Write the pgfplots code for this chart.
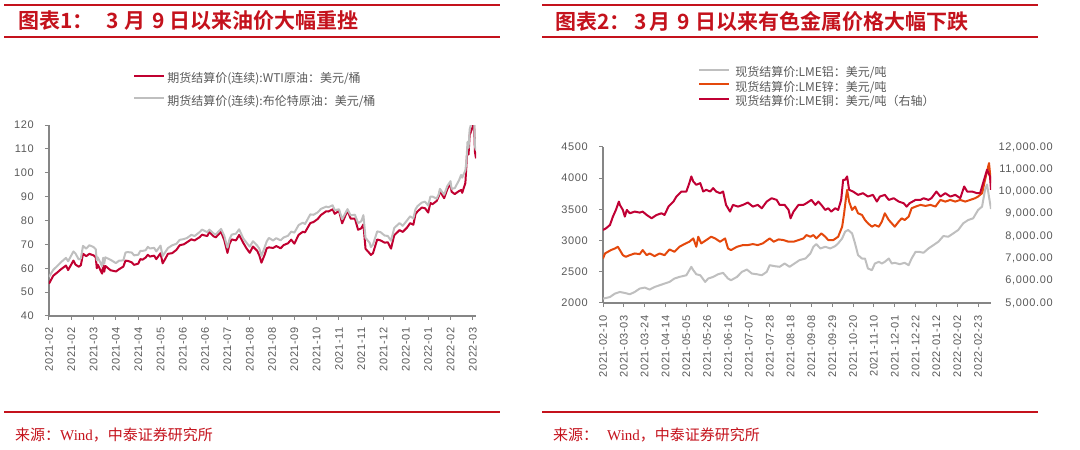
\documentclass[border=0pt]{standalone}
\usepackage{fontspec}
\usepackage{pgfplots}
\usepackage{pgfplotstable}
\pgfplotsset{compat=1.18}
\setmainfont{Liberation Sans}
\newfontfamily\cjk[BoldFont=* Bold]{Noto Sans CJK SC}
\newfontfamily\tickfont[LetterSpace=6]{Liberation Sans}
\newfontfamily\serifw{Liberation Serif}
\definecolor{titlered}{RGB}{196,18,28}
\definecolor{wti}{RGB}{192,0,48}
\definecolor{lgray}{RGB}{191,191,191}
\definecolor{zinc}{RGB}{228,72,12}
\definecolor{copper}{RGB}{192,0,52}
\definecolor{axgray}{RGB}{134,134,134}
\definecolor{txtgray}{RGB}{89,89,89}

\pgfplotstableread{
day wti brent
0 53.55 56.35
4 56.85 59.34
9 58.68 61.47
11 59.47 62.43
16 61.14 64.34
18 59.24 62.91
23 63.22 67.04
25 61.50 66.13
28 60.64 63.69
30 61.28 64.07
32 66.09 69.36
35 65.05 68.24
38 66.02 69.63
42 65.39 68.88
44 64.60 68.00
45 60.00 63.28
46 61.42 64.53
50 57.76 60.79
51 61.18 64.41
52 58.56 61.95
53 60.97 64.57
58 59.16 63.54
63 58.65 62.15
66 59.60 63.20
70 60.70 63.28
72 63.15 66.58
74 63.13 66.77
78 62.44 66.57
80 61.43 65.40
84 61.91 65.65
86 63.86 67.27
88 63.58 67.25
91 64.49 67.56
93 65.63 68.96
95 64.90 68.28
99 65.28 68.55
101 63.82 67.05
105 66.27 69.46
107 62.05 65.11
109 63.58 66.44
112 66.05 68.46
116 66.32 69.63
120 67.72 70.25
123 69.62 71.89
127 70.05 72.22
130 70.91 72.69
134 72.12 73.99
137 71.64 73.51
142 73.08 75.19
144 74.05 76.18
149 73.47 75.13
151 75.16 76.17
155 73.37 74.53
157 72.94 74.12
162 75.25 76.49
165 71.81 73.59
168 66.42 68.62
170 70.30 72.23
172 72.07 74.10
176 71.65 74.48
179 73.95 76.33
183 70.56 72.41
186 68.28 70.70
189 66.48 69.04
192 69.09 71.31
196 67.29 69.51
198 65.46 68.23
200 62.32 65.18
203 65.64 68.75
205 68.36 71.25
207 68.74 72.70
211 68.50 71.63
214 69.29 72.61
218 68.35 71.69
221 69.72 72.92
225 70.46 73.60
228 71.97 75.34
231 70.29 74.92
235 73.98 78.09
239 75.29 79.09
241 75.03 78.52
246 78.93 82.56
249 79.35 82.39
253 80.64 83.42
256 82.28 84.86
261 83.87 85.82
263 83.76 85.53
267 84.65 86.40
269 82.81 84.32
273 84.05 84.71
276 78.81 80.54
281 84.15 84.78
284 80.79 82.17
288 80.76 82.43
291 76.10 78.89
294 76.75 79.70
296 78.39 82.25
298 68.15 72.72
302 66.18 70.57
303 65.57 68.87
305 66.26 69.88
309 72.05 75.44
312 71.67 75.15
316 70.73 73.70
319 70.86 73.52
322 68.23 71.52
325 73.79 76.85
330 75.98 78.94
333 75.21 77.78
337 76.99 80.00
340 78.90 81.75
343 78.23 80.87
345 82.64 84.67
347 83.82 86.06
351 85.43 87.51
354 85.14 87.89
357 83.31 86.27
359 87.35 89.96
361 86.82 90.03
365 88.20 89.16
367 90.27 91.11
368 92.31 93.27
372 89.36 90.78
375 93.10 94.44
378 95.46 96.48
379 92.07 93.28
382 91.07 93.54
386 92.35 96.84
388 92.81 99.08
389 91.59 97.93
392 95.72 100.99
393 103.41 104.97
394 110.60 112.93
395 107.67 110.46
396 115.68 118.11
399 119.40 123.21
400 123.70 127.98
401 108.70 111.14
402 106.02 109.33
}\oiltable

\pgfplotstableread{
day al
0 2070
3 2080
7 2096
12 2150
17 2177
22 2161
27 2140
32 2177
37 2231
42 2247
47 2215
52 2257
57 2284
62 2311
67 2338
72 2392
77 2418
84 2445
89 2580
91 2526
94 2461
98 2445
103 2338
106 2392
111 2418
116 2461
121 2483
126 2392
129 2365
135 2418
140 2499
145 2536
150 2472
155 2461
160 2445
165 2499
168 2606
173 2590
178 2580
183 2633
188 2580
193 2633
198 2687
204 2713
209 2794
212 2901
215 2944
219 2874
224 2901
229 2874
234 2912
237 2955
241 3035
244 3143
247 3170
251 3116
254 2955
257 2767
261 2713
264 2713
267 2553
271 2526
274 2633
278 2660
281 2633
284 2660
288 2713
291 2633
294 2644
299 2622
304 2644
308 2606
311 2713
315 2821
318 2821
323 2805
328 2874
333 2928
338 2982
343 3073
348 3062
353 3116
358 3170
363 3277
368 3330
373 3357
378 3491
382 3545
385 3813
387 3900
389 3700
391 3507
}\altable

\pgfplotstableread{
day zn
0 2713
2 2794
5 2821
8 2848
12 2874
15 2901
17 2848
20 2767
23 2740
27 2767
32 2794
37 2783
40 2848
44 2767
47 2794
52 2751
57 2794
62 2767
67 2858
72 2821
77 2901
82 2944
87 2982
91 3035
94 2901
96 3062
99 2955
104 3008
109 3062
113 3035
118 2982
123 3035
126 2874
129 2848
135 2901
141 2928
146 2928
151 2944
156 2928
161 2955
168 3035
172 2982
177 3019
182 3008
187 2982
192 2982
197 3008
202 3035
205 3089
209 3062
212 3089
215 3035
220 3116
224 3062
227 3008
232 3008
237 3062
241 3223
243 3438
245 3706
246 3813
248 3625
251 3491
254 3545
257 3438
261 3411
264 3330
267 3277
271 3223
274 3250
278 3223
281 3304
284 3438
288 3330
291 3277
294 3223
298 3304
301 3357
304 3330
308 3384
311 3518
315 3545
320 3572
325 3556
330 3572
335 3545
340 3652
345 3625
350 3652
355 3625
360 3652
365 3625
370 3652
375 3679
378 3706
382 3760
385 3974
389 4242
391 3920
}\zntable

\pgfplotstableread{
day cu
0 8275
3 8350
7 8500
10 8876
13 9176
16 9552
17 9402
20 9176
22 8876
24 9176
27 9026
32 9101
37 9056
40 9101
44 8951
49 8801
54 8951
59 9026
62 8951
66 9326
71 9552
74 9777
79 10002
84 10002
87 10378
89 10678
91 10453
94 10303
98 10378
101 10002
104 10078
108 10002
111 10153
114 10002
118 9927
121 10002
124 9402
128 9101
131 9402
136 9326
141 9402
146 9507
151 9326
156 9402
160 9251
165 9552
170 9702
175 9627
178 9402
183 9402
187 9176
189 8801
192 9101
197 9402
202 9402
205 9477
210 9627
214 9402
217 9552
220 9402
224 9176
227 9251
230 9101
234 9251
237 9176
240 9627
242 10528
244 10528
246 10678
248 10078
252 10002
257 9852
262 9927
267 9777
272 9852
276 9552
279 9777
284 9852
288 9627
293 9702
298 9552
303 9477
306 9326
309 9477
315 9627
320 9627
323 9702
328 9627
331 9702
336 10002
340 9777
345 9927
350 9777
355 9852
360 9702
364 10228
367 10002
372 10002
377 9927
380 9927
383 10378
387 10979
390 10678
391 10078
}\cutable

\begin{document}
\begin{tikzpicture}
\useasboundingbox (0pt,0pt) rectangle (1080pt,450pt);
% ---------- decorations left ----------
\draw[titlered, line width=2.5pt] (4pt,445pt) -- (500pt,445pt);
\draw[titlered, line width=2pt] (4pt,413pt) -- (500pt,413pt);
\draw[titlered, line width=1.6pt] (4pt,38pt) -- (500pt,38pt);
\node[anchor=west, inner sep=0pt, text=titlered, font=\cjk\bfseries\fontsize{21}{24}\selectfont] at (18pt,429pt)
  {图表1：\hspace{13pt}3\hspace{6pt}月\hspace{7pt}9\hspace{4pt}日以来油价大幅重挫};
\node[anchor=west, inner sep=0pt, text=titlered, font=\cjk\fontsize{15}{18}\selectfont] at (15pt,15pt)
  {来源：{\serifw Wind}，中泰证券研究所};
% ---------- decorations right ----------
\draw[titlered, line width=2.5pt] (542pt,445pt) -- (1038pt,445pt);
\draw[titlered, line width=2pt] (542pt,413pt) -- (1038pt,413pt);
\draw[titlered, line width=1.6pt] (542pt,38pt) -- (1038pt,38pt);
\node[anchor=west, inner sep=0pt, text=titlered, font=\cjk\bfseries\fontsize{21}{24}\selectfont] at (555pt,429pt)
  {图表2：\hspace{4pt}3\hspace{3pt}月\hspace{7pt}9\hspace{5pt}日以来有色金属价格大幅下跌};
\node[anchor=west, inner sep=0pt, text=titlered, font=\cjk\fontsize{15}{18}\selectfont] at (553pt,15pt)
  {来源：\hspace{9pt}{\serifw Wind}，中泰证券研究所};

% ---------- left chart ----------
\begin{axis}[
  at={(49pt,134pt)}, anchor=south west, scale only axis,
  width=427pt, height=191pt,
  xmin=0, xmax=402, ymin=40, ymax=120,
  scaled ticks=false,
  axis x line*=bottom, axis y line*=left,
  axis line style={axgray, line width=1.2pt},
  tick style={axgray, line width=1pt}, tick align=outside, major tick length=4pt,
  xtick={0,21,...,399},
  xticklabels={2021-02,2021-02,2021-03,2021-04,2021-04,2021-05,2021-06,2021-06,2021-07,2021-08,2021-08,2021-09,2021-10,2021-11,2021-11,2021-12,2022-01,2022-01,2022-02,2022-03},
  xticklabel style={rotate=90, anchor=east, inner sep=0pt, xshift=-7pt, font=\tickfont\fontsize{11}{12}\selectfont, text=txtgray},
  ytick={40,50,...,120},
  yticklabels={40,50,60,70,80,90,100,110,120},
  yticklabel style={anchor=east, inner sep=0pt, xshift=-11pt, font=\tickfont\fontsize{11}{12}\selectfont, text=txtgray},
  legend image code/.code={\draw[#1] (0pt,3.5pt) -- (30pt,3.5pt);},
  legend style={at={(0.197,1.27)}, anchor=north west, draw=none, fill=none, inner sep=0pt,
    font=\cjk\fontsize{12}{13}\selectfont, text=txtgray, row sep=11pt, column sep=2pt,
    nodes={inner sep=0pt, text height=9pt, text depth=2.5pt}},
  legend cell align=left,
]
\addplot[wti, line width=2pt, line join=round] table[x=day, y=wti] {\oiltable};
\addlegendentry{期货结算价(连续):WTI原油：美元/桶}
\addplot[lgray, line width=2pt, line join=round] table[x=day, y=brent] {\oiltable};
\addlegendentry{期货结算价(连续):布伦特原油：美元/桶}
\end{axis}

% ---------- right chart, left axis ----------
\begin{axis}[
  at={(603pt,147pt)}, anchor=south west, scale only axis,
  width=388pt, height=156pt,
  xmin=0, xmax=391, ymin=2000, ymax=4500,
  scaled ticks=false,
  axis x line*=bottom, axis y line*=left,
  axis line style={axgray, line width=1.2pt},
  tick style={axgray, line width=1pt}, tick align=outside, major tick length=4pt,
  xtick={0,21,...,378},
  xticklabels={2021-02-10,2021-03-03,2021-03-24,2021-04-14,2021-05-05,2021-05-26,2021-06-16,2021-07-07,2021-07-28,2021-08-18,2021-09-08,2021-09-29,2021-10-20,2021-11-10,2021-12-01,2021-12-22,2022-01-12,2022-02-02,2022-02-23},
  xticklabel style={rotate=90, anchor=east, inner sep=0pt, xshift=-8pt, font=\tickfont\fontsize{11}{12}\selectfont, text=txtgray},
  ytick={2000,2500,...,4500},
  yticklabels={2000,2500,3000,3500,4000,4500},
  yticklabel style={anchor=east, inner sep=0pt, xshift=-11pt, font=\tickfont\fontsize{11}{12}\selectfont, text=txtgray},
  legend image code/.code={\draw[#1] (0pt,3.5pt) -- (30pt,3.5pt);},
  legend style={at={(0.245,1.51)}, anchor=north west, draw=none, fill=none, inner sep=0pt,
    font=\cjk\fontsize{12}{13}\selectfont, text=txtgray, row sep=3pt, column sep=5pt,
    nodes={inner sep=0pt, text height=9pt, text depth=2.5pt}},
  legend cell align=left,
]
\addplot[lgray, line width=2pt, line join=round] table[x=day, y=al] {\altable};
\addlegendentry{现货结算价:LME铝：美元/吨}
\addplot[zinc, line width=2pt, line join=round] table[x=day, y=zn] {\zntable};
\addlegendentry{现货结算价:LME锌：美元/吨}
\addlegendimage{copper, line width=2pt}
\addlegendentry{现货结算价:LME铜：美元/吨（右轴）}
\end{axis}

% ---------- right chart, right axis ----------
\begin{axis}[
  at={(603pt,147pt)}, anchor=south west, scale only axis,
  width=388pt, height=156pt,
  xmin=0, xmax=391, ymin=5000, ymax=12000,
  scaled ticks=false,
  axis x line=none, axis y line*=right,
  y axis line style={draw=none},
  major tick length=0pt,
  ytick={5000,6000,...,12000},
  yticklabels={{5,000.00},{6,000.00},{7,000.00},{8,000.00},{9,000.00},{10,000.00},{11,000.00},{12,000.00}},
  yticklabel style={anchor=east, inner sep=0pt, xshift=62pt, font=\tickfont\fontsize{11}{12}\selectfont, text=txtgray},
]
\addplot[copper, line width=2pt, line join=round] table[x=day, y=cu] {\cutable};
\end{axis}
\end{tikzpicture}
\end{document}
